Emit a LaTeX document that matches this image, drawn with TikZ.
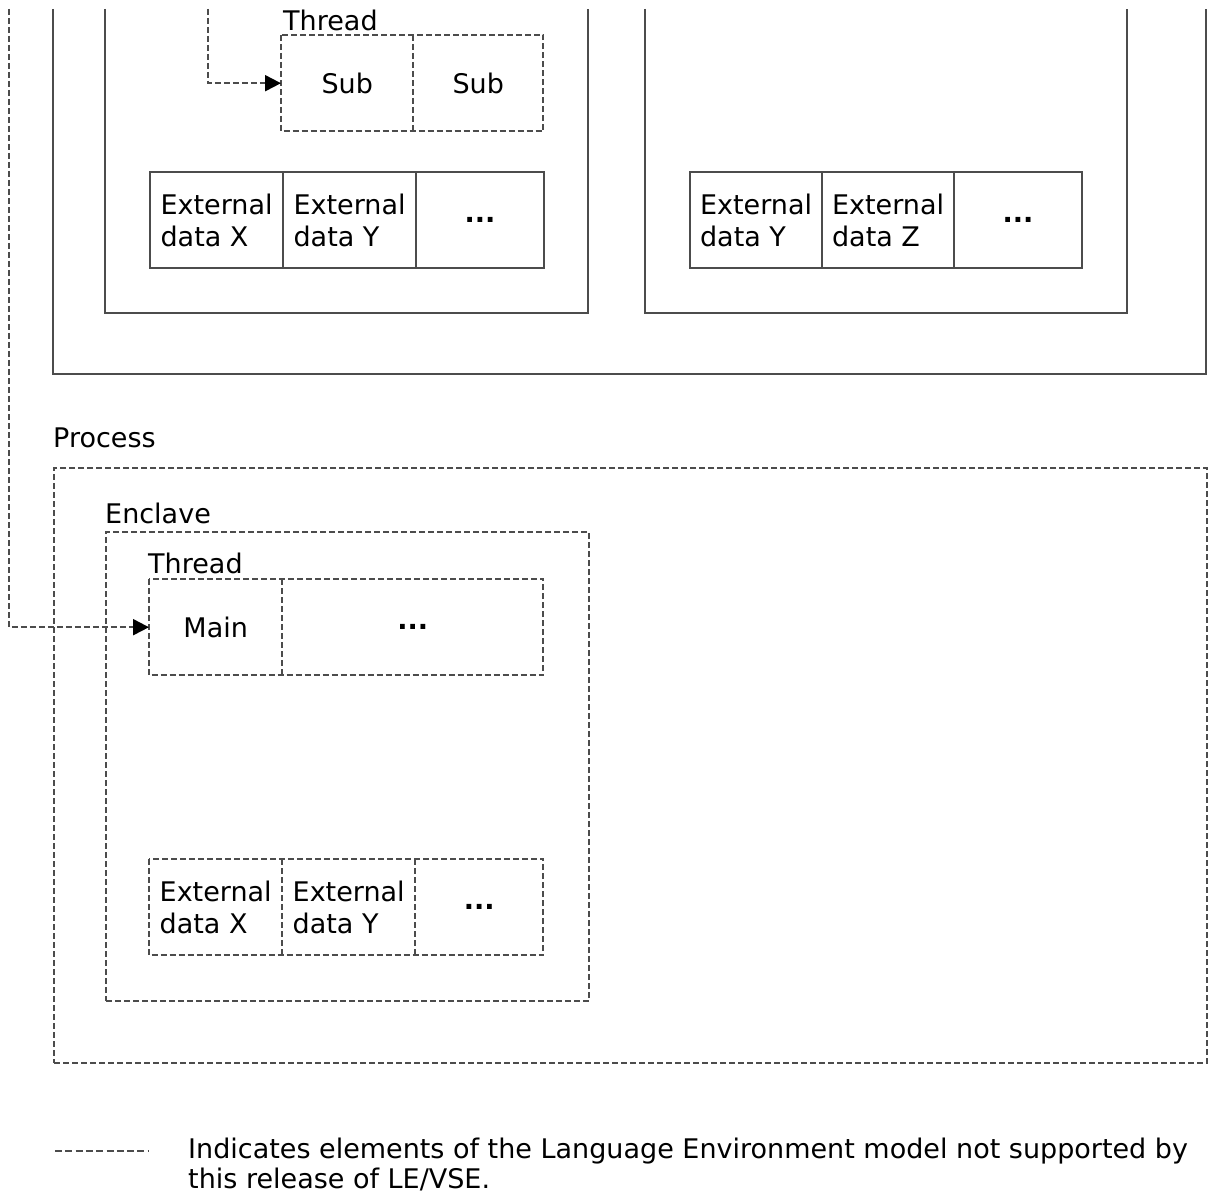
\documentclass[tikz,border=0pt]{standalone}
\usepackage{fontspec}
\setmainfont{DejaVu Sans}
\usetikzlibrary{arrows.meta}
\begin{document}
\begin{tikzpicture}[x=1pt,y=-1pt,
  solidline/.style={draw=black!70, line width=2.2pt},
  dashline/.style={draw=black!70, line width=2pt, dash pattern=on 6pt off 3pt},
  txt/.style={font=\fontsize{27}{32}\selectfont},
  cell/.style={txt, rectangle, anchor=north west, minimum height=96pt, inner sep=0pt, align=left},
  lbl/.style={txt, anchor=west, inner sep=0pt},
  tip/.style={-{Triangle[length=16pt,width=16pt,color=black]}},
]
\useasboundingbox (0,0) rectangle (1208,1198);
\begin{scope}
\clip (0,9) rectangle (1208,1198);

% open-topped solid frames of the upper region
\draw[solidline] (53,9) -- (53,374) -- (1206,374) -- (1206,9);
\draw[solidline] (105,9) -- (105,313) -- (588,313) -- (588,9);
\draw[solidline] (645,9) -- (645,313) -- (1127,313) -- (1127,9);

% upper thread
\node[lbl] (thrTop) at (283,20) {Thread};
\node[cell, minimum width=132pt] (subA) at (281,35) {Sub};
\node[cell, minimum width=130pt] (subB) at (413,35) {Sub};
\draw[dashline] (subA.north west) rectangle (subB.south east);
\draw[dashline] (subB.north west) -- (subB.south west);

% external data, left enclave
\node[cell, solidline, minimum width=133pt] (exA) at (149,171) {External\\data X};
\node[cell, solidline, minimum width=133pt] (exB) at (282,171) {External\\data Y};
\node[cell, solidline, minimum width=128pt] (exC) at (415,171) {\textbf{...}};

% external data, right enclave
\node[cell, solidline, minimum width=132pt] (eyA) at (689,171) {External\\data Y};
\node[cell, solidline, minimum width=132pt] (eyB) at (821,171) {External\\data Z};
\node[cell, solidline, minimum width=128pt] (eyC) at (953,171) {\textbf{...}};

% process / enclave
\node[lbl] (procL) at (53,438) {Process};
\node[dashline, rectangle, anchor=north west, inner sep=0pt, minimum width=1153pt, minimum height=595pt] (proc) at (53,467) {};
\node[lbl] (enclL) at (105,513) {Enclave};
\node[dashline, rectangle, anchor=north west, inner sep=0pt, minimum width=483pt, minimum height=469pt] (encl) at (105,531) {};

% main thread
\node[lbl] (thrL) at (148,563) {Thread};
\node[cell, minimum width=133pt] (main) at (149,579) {Main};
\node[cell, minimum width=261pt] (mainB) at (282,579) {\textbf{...}};
\draw[dashline] (main.north west) rectangle (mainB.south east);
\draw[dashline] (mainB.north west) -- (mainB.south west);

% external data, process enclave
\node[cell, minimum width=133pt] (pxA) at (149,859) {External\\data X};
\node[cell, minimum width=133pt] (pxB) at (282,859) {External\\data Y};
\node[cell, minimum width=128pt] (pxC) at (415,859) {\textbf{...}};
\draw[dashline] (pxA.north west) rectangle (pxC.south east);
\draw[dashline] (pxB.north west) -- (pxB.south west);
\draw[dashline] (pxC.north west) -- (pxC.south west);

% connectors
\coordinate (srcMain) at (9,9);
\coordinate (srcSub) at (208,9);
\draw[dashline, tip] (srcMain) |- (main.west);
\draw[dashline, tip] (srcSub) |- (subA.west);

% legend
\coordinate (legA) at (55,1151);
\coordinate (legB) at (148,1151);
\draw[draw=black!70, line width=1.8pt, dash pattern=on 7pt off 3.3pt] (legA) -- (legB);
\node[anchor=north west, inner sep=0pt, align=left, font=\fontsize{27}{30}\selectfont] (legend) at (188,1138)
  {Indicates elements of the Language Environment model not supported by\\this release of LE/VSE.};
\end{scope}
\end{tikzpicture}
\end{document}
